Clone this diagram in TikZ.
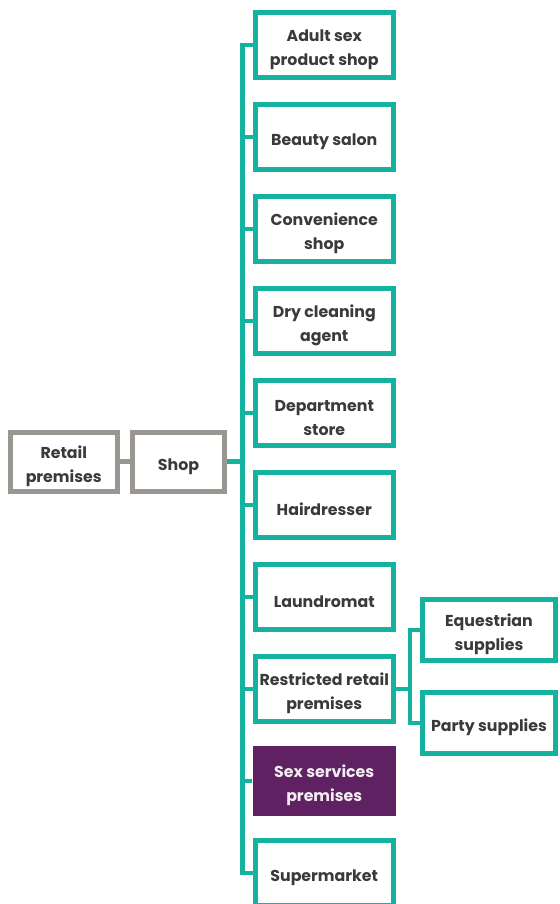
\documentclass[tikz,border=0pt]{standalone}
\usepackage{fontspec}
\setmainfont{Poppins}
\usetikzlibrary{positioning}
\definecolor{vteal}{HTML}{16B2A0}
\definecolor{vgrey}{HTML}{9A9691}
\definecolor{vplum}{HTML}{5F2161}
\definecolor{vtext}{HTML}{3A3A3C}
\newcommand{\toprule}{\rule{0pt}{22pt}}

\begin{document}
\begin{tikzpicture}[x=1pt,y=-1pt,
  every node/.style={font=\bfseries\fontsize{15.8}{24}\selectfont,align=center,inner sep=0pt},
  box/.style={draw=vteal,line width=5pt,minimum width=138.5pt,minimum height=65pt,text=vtext},
  plumbox/.style={fill=vplum,minimum width=143.5pt,minimum height=70pt,text=white!92!vplum},
  greybox/.style={draw=vgrey,line width=5pt,minimum height=59pt,text=vtext},
  tline/.style={draw=vteal,line width=4.5pt},
  gline/.style={draw=vgrey,line width=4.5pt}]
\useasboundingbox (0,0) rectangle (559,904);
\node[greybox,minimum width=106.5pt] (retail) at (63.75,461.5) {\toprule Retail\\premises};
\node[greybox,minimum width=92pt] (shop) at (178.5,461.5) {\toprule Shop};
\draw[gline] (retail) -- (shop);
% the shop types, one every 92px
\foreach \n/\s/\t [count=\i from 0] in {adult/box/{Adult sex\\product shop},
    beauty/box/{Beauty salon},
    conv/box/{Convenience\\shop},
    dry/box/{Dry cleaning\\agent},
    dept/box/{Department\\store},
    hair/box/{Hairdresser},
    laund/box/{Laundromat},
    restr/box/{Restricted retail\\premises},
    sex/plumbox/{Sex services\\premises},
    super/box/{Supermarket}} {
  \node[\s] (\n) at (324.25,{45+92*\i}) {\toprule\t};
  \draw[tline] (shop.east) -- ++(15.5,0) |- (\n.west);
}
\node[box,minimum width=133pt,minimum height=60.5pt] (equ) at (489,630) {\toprule Equestrian\\supplies};
\node[box,minimum width=133pt,minimum height=60.5pt] (party) at (489,723) {\toprule Party supplies};
\draw[tline] (restr.east) -- ++(14,0) |- (equ.west);
\draw[tline] (restr.east) -- ++(14,0) |- (party.west);
\end{tikzpicture}
\end{document}
